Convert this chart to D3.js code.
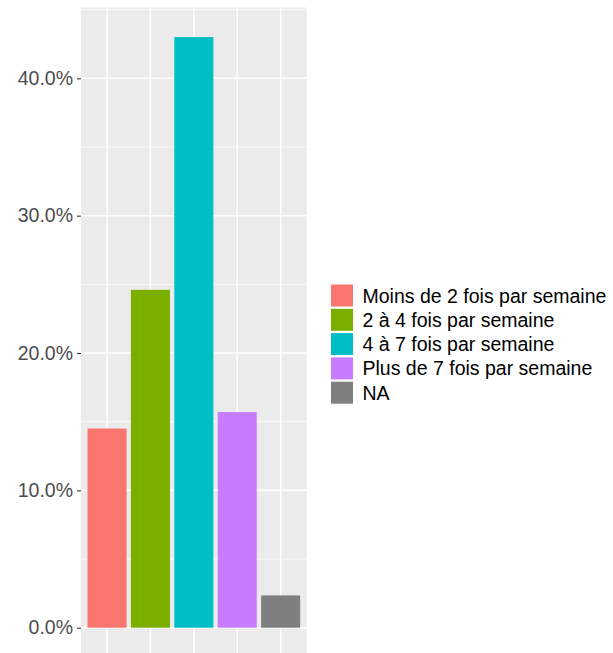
<!DOCTYPE html>
<html>
<head>
<meta charset="utf-8">
<script src="https://cdn.jsdelivr.net/npm/d3@7"></script>
<style>
  html, body { margin: 0; padding: 0; background: #fff; }
  svg { display: block; }
</style>
</head>
<body>
<svg id="chart" width="613" height="653"></svg>
<script>
const categories = ["Moins de 2 fois par semaine", "2 à 4 fois par semaine", "4 à 7 fois par semaine", "Plus de 7 fois par semaine", "NA"];
const values = [14.5, 24.6, 43.0, 15.7, 2.35];
const colors = ["#F8766D", "#7CAE00", "#00BFC4", "#C77CFF", "#7F7F7F"];
const yTicks = [0, 10, 20, 30, 40];
const yMinor = [5, 15, 25, 35, 45];
const yTickLabels = ["0.0%", "10.0%", "20.0%", "30.0%", "40.0%"];

const svg = d3.select("#chart");
const font = "'Liberation Sans', Arial, sans-serif";

const panel = { left: 81, right: 306.7 };
const y = d3.scaleLinear().domain([0, 40]).range([627.7, 78.3]);
const maxV = d3.max(values);
const panelTop = y(maxV * 1.05);
const panelBottom = y(-maxV * 0.05);

const x = d3.scaleBand().domain(categories).range([panel.left, panel.right])
  .paddingInner(0.1).paddingOuter(0.15);

// panel background
svg.append("rect")
  .attr("x", panel.left).attr("y", panelTop)
  .attr("width", panel.right - panel.left).attr("height", panelBottom - panelTop)
  .attr("fill", "#EBEBEB");

// minor grid
svg.append("g").selectAll("line").data(yMinor).join("line")
  .attr("x1", panel.left).attr("x2", panel.right)
  .attr("y1", d => y(d)).attr("y2", d => y(d))
  .attr("stroke", "#fff").attr("stroke-width", 0.8);

// major grid
svg.append("g").selectAll("line").data(yTicks).join("line")
  .attr("x1", panel.left).attr("x2", panel.right)
  .attr("y1", d => y(d)).attr("y2", d => y(d))
  .attr("stroke", "#fff").attr("stroke-width", 1.5);

svg.append("g").selectAll("line").data(categories).join("line")
  .attr("x1", d => x(d) + x.bandwidth() / 2).attr("x2", d => x(d) + x.bandwidth() / 2)
  .attr("y1", panelTop).attr("y2", panelBottom)
  .attr("stroke", "#fff").attr("stroke-width", 1.5);

// bars
svg.append("g").selectAll("rect").data(categories).join("rect")
  .attr("x", d => x(d))
  .attr("y", (d, i) => y(values[i]))
  .attr("width", x.bandwidth())
  .attr("height", (d, i) => y(0) - y(values[i]))
  .attr("fill", (d, i) => colors[i]);

// y axis
const yAxis = d3.axisLeft(y).tickValues(yTicks)
  .tickFormat((d, i) => yTickLabels[i]).tickSize(4).tickPadding(4);
const ga = svg.append("g").attr("transform", `translate(${panel.left},0)`).call(yAxis);
ga.select(".domain").remove();
ga.selectAll(".tick line").attr("stroke", "#333333").attr("stroke-width", 1.1);
ga.selectAll(".tick text")
  .attr("fill", "#4D4D4D")
  .style("font-family", font)
  .style("font-size", "19.5px");

// legend
const legend = svg.append("g");
const keyX = 331, keyY0 = 284.5, keyStep = 24.3, keySize = 22;
categories.forEach((c, i) => {
  const ky = keyY0 + i * keyStep;
  legend.append("rect")
    .attr("x", keyX).attr("y", ky)
    .attr("width", keySize).attr("height", keySize)
    .attr("fill", colors[i]);
  legend.append("text")
    .attr("x", 362.5).attr("y", ky + keySize / 2)
    .attr("dominant-baseline", "central")
    .attr("fill", "#000")
    .style("font-family", font)
    .style("font-size", "19.5px")
    .text(c);
});
</script>
</body>
</html>
